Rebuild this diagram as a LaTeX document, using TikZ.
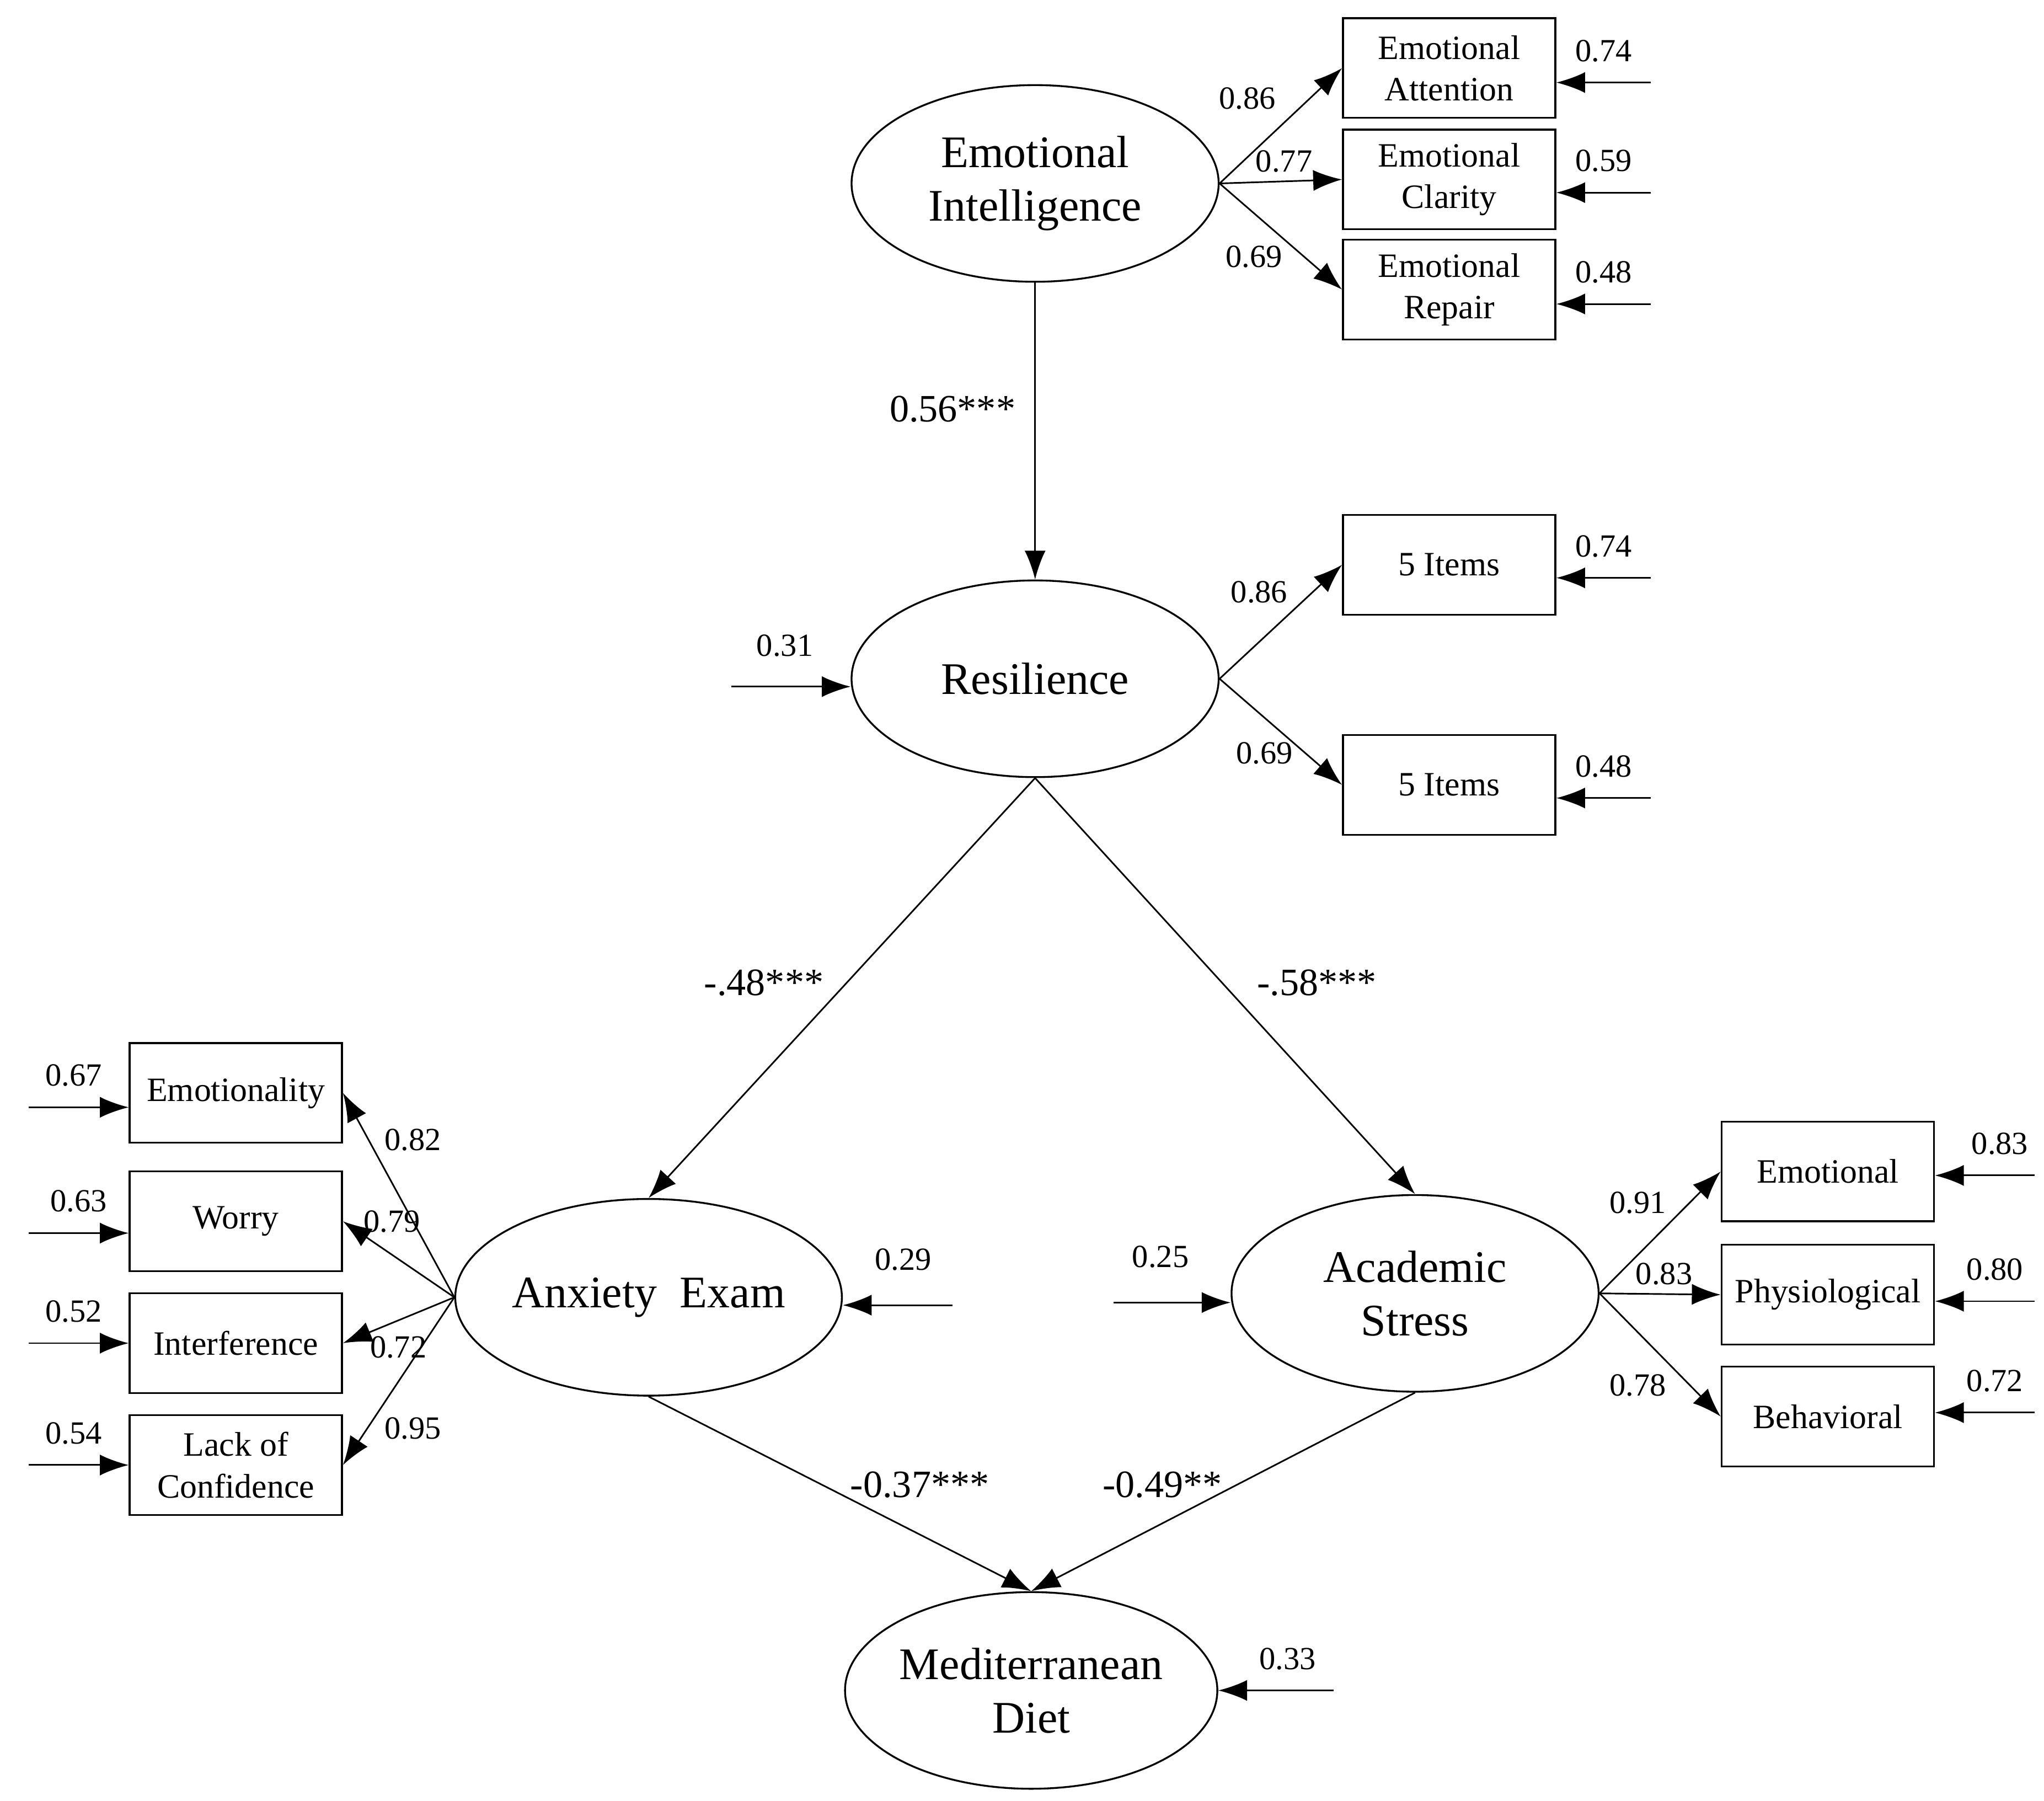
\documentclass[tikz,border=0pt]{standalone}
\usepackage{fontspec}
\setmainfont{Liberation Serif}
\usetikzlibrary{arrows.meta,shapes.geometric}
\tikzset{
  latent/.style={draw,ellipse,minimum width=2.8cm,minimum height=1.5cm,inner sep=0pt,align=center,font=\fontsize{9.8}{11.6}\selectfont},
  item/.style={draw,rectangle,minimum width=1.62cm,minimum height=0.76cm,inner sep=0pt,align=center,font=\fontsize{7.4}{9}\selectfont},
  lbl/.style={font=\fontsize{7}{8}\selectfont},
  plbl/.style={font=\fontsize{8.4}{10}\selectfont},
  arr/.style={-{Latex[length=2.2mm,width=1.6mm]},line width=0.35pt}
}
\begin{document}
\begin{tikzpicture}[x=0.01cm,y=-0.01cm]
	  \useasboundingbox (0,0) rectangle (1560,1374);

	  % latent variables
	  \node [latent] (ei) at (790,140) {Emotional\\Intelligence};
	  \node [latent] (res) at (790,518) {Resilience};
	  \node [latent] (ae) at (495,990) {Anxiety\ \ Exam};
	  \node [latent] (as) at (1080,987) {Academic\\Stress};
	  \node [latent] (md) at (787,1290) {Mediterranean\\Diet};

	  % indicators
	  \node [item] (ea) at (1106,52) {Emotional\\Attention};
	  \node [item] (ec) at (1106,137) {Emotional\\Clarity};
	  \node [item] (er) at (1106,221) {Emotional\\Repair};
	  \node [item] (ra) at (1106,431) {5 Items};
	  \node [item] (rb) at (1106,599) {5 Items};
	  \node [item] (emo) at (180,834) {Emotionality};
	  \node [item] (wor) at (180,932) {Worry};
	  \node [item] (int) at (180,1025) {Interference};
	  \node [item] (lac) at (180,1118) {Lack of\\Confidence};
	  \node [item] (sem) at (1395,894) {Emotional};
	  \node [item] (sph) at (1395,988) {Physiological};
	  \node [item] (sbe) at (1395,1081) {Behavioral};

	  % error terms
	  \coordinate (eea) at (1260,63);
	  \coordinate (eec) at (1260,147);
	  \coordinate (eer) at (1260,232);
	  \coordinate (era) at (1260,441);
	  \coordinate (erb) at (1260,609);
	  \coordinate (eres) at (558,524);
	  \coordinate (eae) at (727,996);
	  \coordinate (eas) at (850,994);
	  \coordinate (emd) at (1018,1290);
	  \coordinate (eemo) at (22,845);
	  \coordinate (ewor) at (22,941);
	  \coordinate (eint) at (22,1025);
	  \coordinate (elac) at (22,1118);
	  \coordinate (esem) at (1553,897);
	  \coordinate (esph) at (1553,993);
	  \coordinate (esbe) at (1553,1078);

	  \draw [arr] (eea)--(eea-|ea.east) node [lbl, pos=0.5, above=1pt] {0.74};
	  \draw [arr] (eec)--(eec-|ec.east) node [lbl, pos=0.5, above=1pt] {0.59};
	  \draw [arr] (eer)--(eer-|er.east) node [lbl, pos=0.5, above=1pt] {0.48};
	  \draw [arr] (era)--(era-|ra.east) node [lbl, pos=0.5, above=1pt] {0.74};
	  \draw [arr] (erb)--(erb-|rb.east) node [lbl, pos=0.5, above=1pt] {0.48};
	  \draw [arr] (eres)--(eres-|res.west) node [lbl, pos=0.45, above=3pt] {0.31};
	  \draw [arr] (eae)--(eae-|ae.east) node [lbl, pos=0.45, above=4pt] {0.29};
	  \draw [arr] (eas)--(eas-|as.west) node [lbl, pos=0.4, above=4pt] {0.25};
	  \draw [arr] (emd)--(emd-|md.east) node [lbl, pos=0.4, above=1pt] {0.33};
	  \draw [arr] (eemo)--(eemo-|emo.west) node [lbl, pos=0.45, above=1pt] {0.67};
	  \draw [arr] (ewor)--(ewor-|wor.west) node [lbl, pos=0.5, above=1pt] {0.63};
	  \draw [arr] (eint)--(eint-|int.west) node [lbl, pos=0.45, above=1pt] {0.52};
	  \draw [arr] (elac)--(elac-|lac.west) node [lbl, pos=0.45, above=1pt] {0.54};
	  \draw [arr] (esem)--(esem-|sem.east) node [lbl, pos=0.35, above=1pt] {0.83};
	  \draw [arr] (esph)--(esph-|sph.east) node [lbl, pos=0.4, above=1pt] {0.80};
	  \draw [arr] (esbe)--(esbe-|sbe.east) node [lbl, pos=0.4, above=1pt] {0.72};

	  % loadings
	  \draw [arr] (ei.east)--(ea.west);
	  \draw [arr] (ei.east)--(ec.west);
	  \draw [arr] (ei.east)--(er.west);
	  \node [lbl] (l1) at (952,75) {0.86};
	  \node [lbl] (l2) at (980,123) {0.77};
	  \node [lbl] (l3) at (957,196) {0.69};

	  \draw [arr] (res.east)--(ra.west);
	  \draw [arr] (res.east)--(rb.west);
	  \node [lbl] (l4) at (961,452) {0.86};
	  \node [lbl] (l5) at (965,575) {0.69};

	  \draw [arr] (ae.west)--(emo.east);
	  \draw [arr] (ae.west)--(wor.east);
	  \draw [arr] (ae.west)--(int.east);
	  \draw [arr] (ae.west)--(lac.east);
	  \node [lbl] (l6) at (315,870) {0.82};
	  \node [lbl] (l7) at (299,932) {0.79};
	  \node [lbl] (l8) at (304,1028) {0.72};
	  \node [lbl] (l9) at (315,1090) {0.95};

	  \draw [arr] (as.east)--(sem.west);
	  \draw [arr] (as.east)--(sph.west);
	  \draw [arr] (as.east)--(sbe.west);
	  \node [lbl] (l10) at (1250,918) {0.91};
	  \node [lbl] (l11) at (1270,972) {0.83};
	  \node [lbl] (l12) at (1250,1057) {0.78};

	  % structural paths
	  \draw [arr] (ei.south)--(res.north);
	  \draw [arr] (res.south)--(ae.north);
	  \draw [arr] (res.south)--(as.north);
	  \draw [arr] (ae.south)--(md.north);
	  \draw [arr] (as.south)--(md.north);
	  \node [plbl] (p1) at (727,312) {0.56***};
	  \node [plbl] (p2) at (583,750) {-.48***};
	  \node [plbl] (p3) at (1005,750) {-.58***};
	  \node [plbl] (p4) at (702,1133) {-0.37***};
	  \node [plbl] (p5) at (887,1133) {-0.49**};
	\end{tikzpicture}
\end{document}
